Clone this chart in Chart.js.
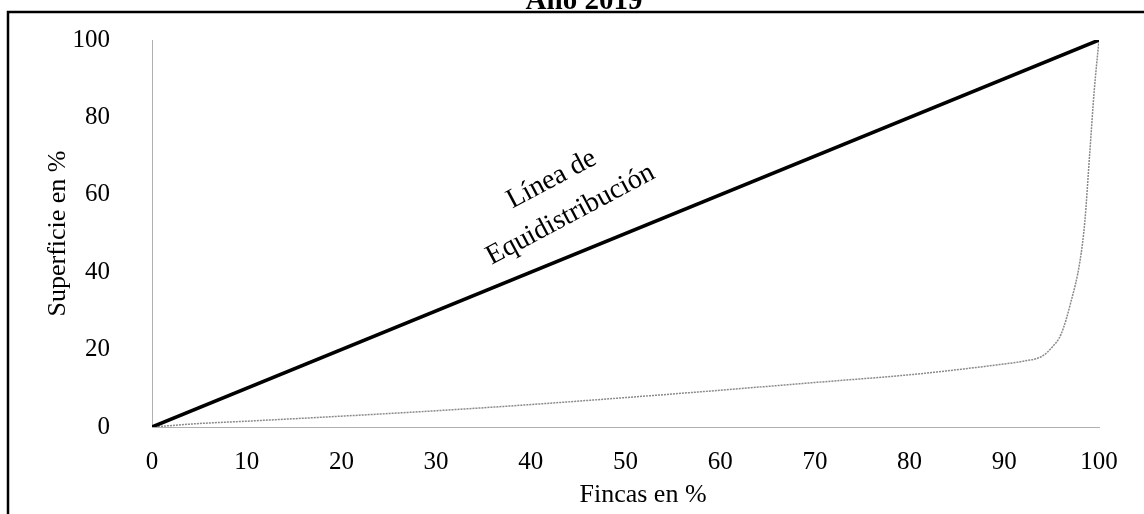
<!DOCTYPE html>
<html>
<head>
<meta charset="utf-8">
<script src="https://cdn.jsdelivr.net/npm/chart.js@4"></script>
<style>
  html, body { margin: 0; padding: 0; background: #fff; }
</style>
</head>
<body>
<canvas id="myChart" width="1144" height="514"></canvas>
<script>
// curva de Lorenz, año 2019
const fincasPct = [0, 5, 10, 20, 30, 40, 50, 60, 70, 80, 85, 90, 92, 94, 95, 96, 97, 98, 98.5, 99, 99.5, 100];
const superficiePct = [0, 0.9, 1.5, 2.8, 4.2, 5.8, 7.6, 9.5, 11.5, 13.5, 14.8, 16.3, 17, 18.3, 20.5, 24, 32, 43, 53, 70, 87, 100];
const equiX = [0, 100];
const equiY = [0, 100];
const titulo = "Año 2019";
const tituloX = "Fincas en %";
const etiqueta = ["Línea de", "Equidistribución"];

const serif = "'Liberation Serif', 'DejaVu Serif', serif";

const marco = {
  id: "marco",
  afterDraw(chart) {
    let c = chart.ctx;
    c.save();
    // borde del cuadro (solo izquierda y arriba se ven)
    c.strokeStyle = "#000";
    c.lineWidth = 2.5;
    c.beginPath();
    c.moveTo(8, 514);
    c.lineTo(8, 12);
    c.lineTo(1144, 12);
    c.stroke();
    // titulo cortado arriba
    c.fillStyle = "#000";
    c.font = "bold 29px " + serif;
    c.textAlign = "center";
    c.textBaseline = "alphabetic";
    c.fillText(titulo, 584, 9);
    // titulo del eje x (algo corrido a la derecha en el original)
    c.font = "26px " + serif;
    c.textBaseline = "middle";
    c.fillText(tituloX, 643, 495);
    // texto de la linea de equidistribucion
    let x = chart.scales.x, y = chart.scales.y;
    c.font = "28px " + serif;
    c.translate(x.getPixelForValue(43.2), y.getPixelForValue(59.4));
    c.rotate(-28 * Math.PI / 180);
    c.fillText(etiqueta[0], 0, -20);
    c.fillText(etiqueta[1], 0, 20);
    c.restore();
  },
};

let ctx = document.getElementById("myChart").getContext("2d");
let myChart = new Chart(ctx, {
  type: "line",
  data: {
    datasets: [
      {
        label: "Equidistribución",
        data: equiX.map((v, i) => ({ x: v, y: equiY[i] })),
        borderColor: "#000",
        borderWidth: 3.5,
        pointRadius: 0,
      },
      {
        label: "Lorenz",
        data: fincasPct.map((v, i) => ({ x: v, y: superficiePct[i] })),
        borderColor: "#8a8a8a",
        borderWidth: 1.5,
        borderDash: [2, 1],
        pointRadius: 0,
        cubicInterpolationMode: "monotone",
      },
    ],
  },
  options: {
    responsive: false,
    animation: false,
    layout: { padding: { left: 0, right: 45, top: 0, bottom: 0 } },
    plugins: {
      legend: { display: false },
      tooltip: { enabled: false },
    },
    scales: {
      x: {
        type: "linear",
        min: 0,
        max: 100,
        afterFit: (s) => { s.height = 87; },
        ticks: {
          stepSize: 10,
          color: "#000",
          padding: 20,
          font: { family: serif, size: 25 },
          maxRotation: 0,
        },
        grid: { display: false, drawTicks: false },
        border: { color: "#b0b0b0", dash: [2, 2], width: 1 },
        title: { display: false },
      },
      y: {
        min: 0,
        max: 100,
        afterFit: (s) => { s.width = 152; s.paddingTop = 40; s.paddingBottom = 0; },
        ticks: {
          stepSize: 20,
          color: "#000",
          padding: 42,
          font: { family: serif, size: 25 },
        },
        grid: { display: false, drawTicks: false },
        border: { color: "#b0b0b0", dash: [2, 2], width: 1 },
        title: {
          display: true,
          text: "Superficie en %",
          color: "#000",
          font: { family: serif, size: 26 },
          padding: { top: 43, bottom: 0 },
        },
      },
    },
  },
  plugins: [marco],
});
</script>
</body>
</html>
